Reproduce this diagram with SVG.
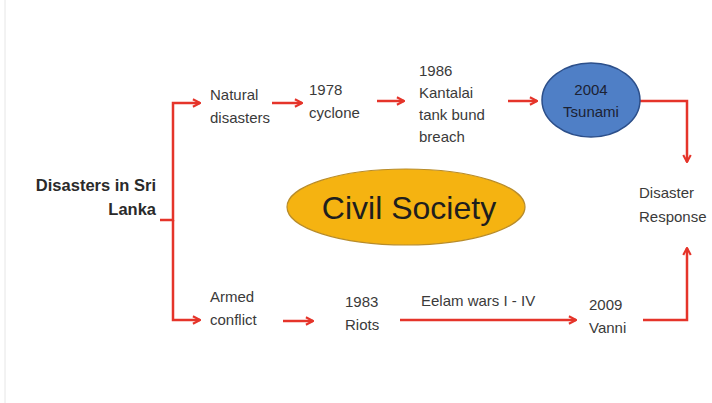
<svg xmlns="http://www.w3.org/2000/svg" width="712" height="403" viewBox="0 0 712 403">
<style>
.t{font-family:"Liberation Sans",Arial,sans-serif;font-size:15px;fill:#3a3a3a}
.b{font-family:"Liberation Sans",Arial,sans-serif;font-size:16.5px;font-weight:bold;fill:#2a2a2a}
.c{fill:none;stroke:#e5342a;stroke-width:2.5}
</style>
<defs>
<marker id="ah" viewBox="0 0 12 12" refX="10.5" refY="6" markerWidth="4" markerHeight="4" orient="auto" markerUnits="strokeWidth">
<path d="M2,1.5 L10.5,6 L2,10.5" fill="none" stroke="#e5342a" stroke-width="2.5" stroke-linejoin="miter"/>
</marker>
</defs>
<rect x="0" y="0" width="712" height="403" fill="#fff"/>
<line x1="5" y1="0" x2="5" y2="403" stroke="#e6e6e6" stroke-width="1"/>
<g id="connectors">
<path class="c" d="M160,220 H173 V103 H200" marker-end="url(#ah)"/>
<path class="c" d="M173,220 V320 H200" marker-end="url(#ah)"/>
<path class="c" d="M272,103 H302" marker-end="url(#ah)"/>
<path class="c" d="M377,101 H404" marker-end="url(#ah)"/>
<path class="c" d="M508,101 H537" marker-end="url(#ah)"/>
<path class="c" d="M640,101 H687 V162" marker-end="url(#ah)"/>
<path class="c" d="M283,321 H313" marker-end="url(#ah)"/>
<path class="c" d="M400,320 H576" marker-end="url(#ah)"/>
<path class="c" d="M643,320 H687 V248" marker-end="url(#ah)"/>
</g>
<g id="root"><text class="b" text-anchor="end" x="156" y="191">Disasters in Sri</text><text class="b" text-anchor="end" x="156" y="215">Lanka</text></g>
<g id="natural"><text class="t" x="210" y="100">Natural</text><text class="t" x="210" y="123">disasters</text></g>
<g id="cyclone"><text class="t" x="309" y="95">1978</text><text class="t" x="309" y="118">cyclone</text></g>
<g id="kantalai"><text class="t" x="419" y="76">1986</text><text class="t" x="419" y="98">Kantalai</text><text class="t" x="419" y="120">tank bund</text><text class="t" x="419" y="142">breach</text></g>
<g id="tsunami"><ellipse cx="591" cy="100" rx="49" ry="37" fill="#4f7fc6" stroke="#2c4f8a" stroke-width="1.5"/><text class="t" text-anchor="middle" x="591" y="95" style="fill:#1c2233">2004</text><text class="t" text-anchor="middle" x="591" y="117" style="fill:#1c2233">Tsunami</text></g>
<g id="response"><text class="t" x="639" y="198">Disaster</text><text class="t" x="639" y="222">Response</text></g>
<g id="civil"><ellipse cx="406" cy="207" rx="119" ry="38" fill="#f5b311" stroke="#b88c2a" stroke-width="1.2"/><text x="409" y="219" text-anchor="middle" font-family="Liberation Sans,Arial,sans-serif" font-size="32" fill="#1e1e1e">Civil Society</text></g>
<g id="armed"><text class="t" x="210" y="302">Armed</text><text class="t" x="210" y="325">conflict</text></g>
<g id="riots"><text class="t" x="345" y="307">1983</text><text class="t" x="345" y="330">Riots</text></g>
<g id="eelam"><text class="t" x="421" y="306">Eelam wars I - IV</text></g>
<g id="vanni"><text class="t" x="589" y="310">2009</text><text class="t" x="589" y="333">Vanni</text></g>
</svg>
